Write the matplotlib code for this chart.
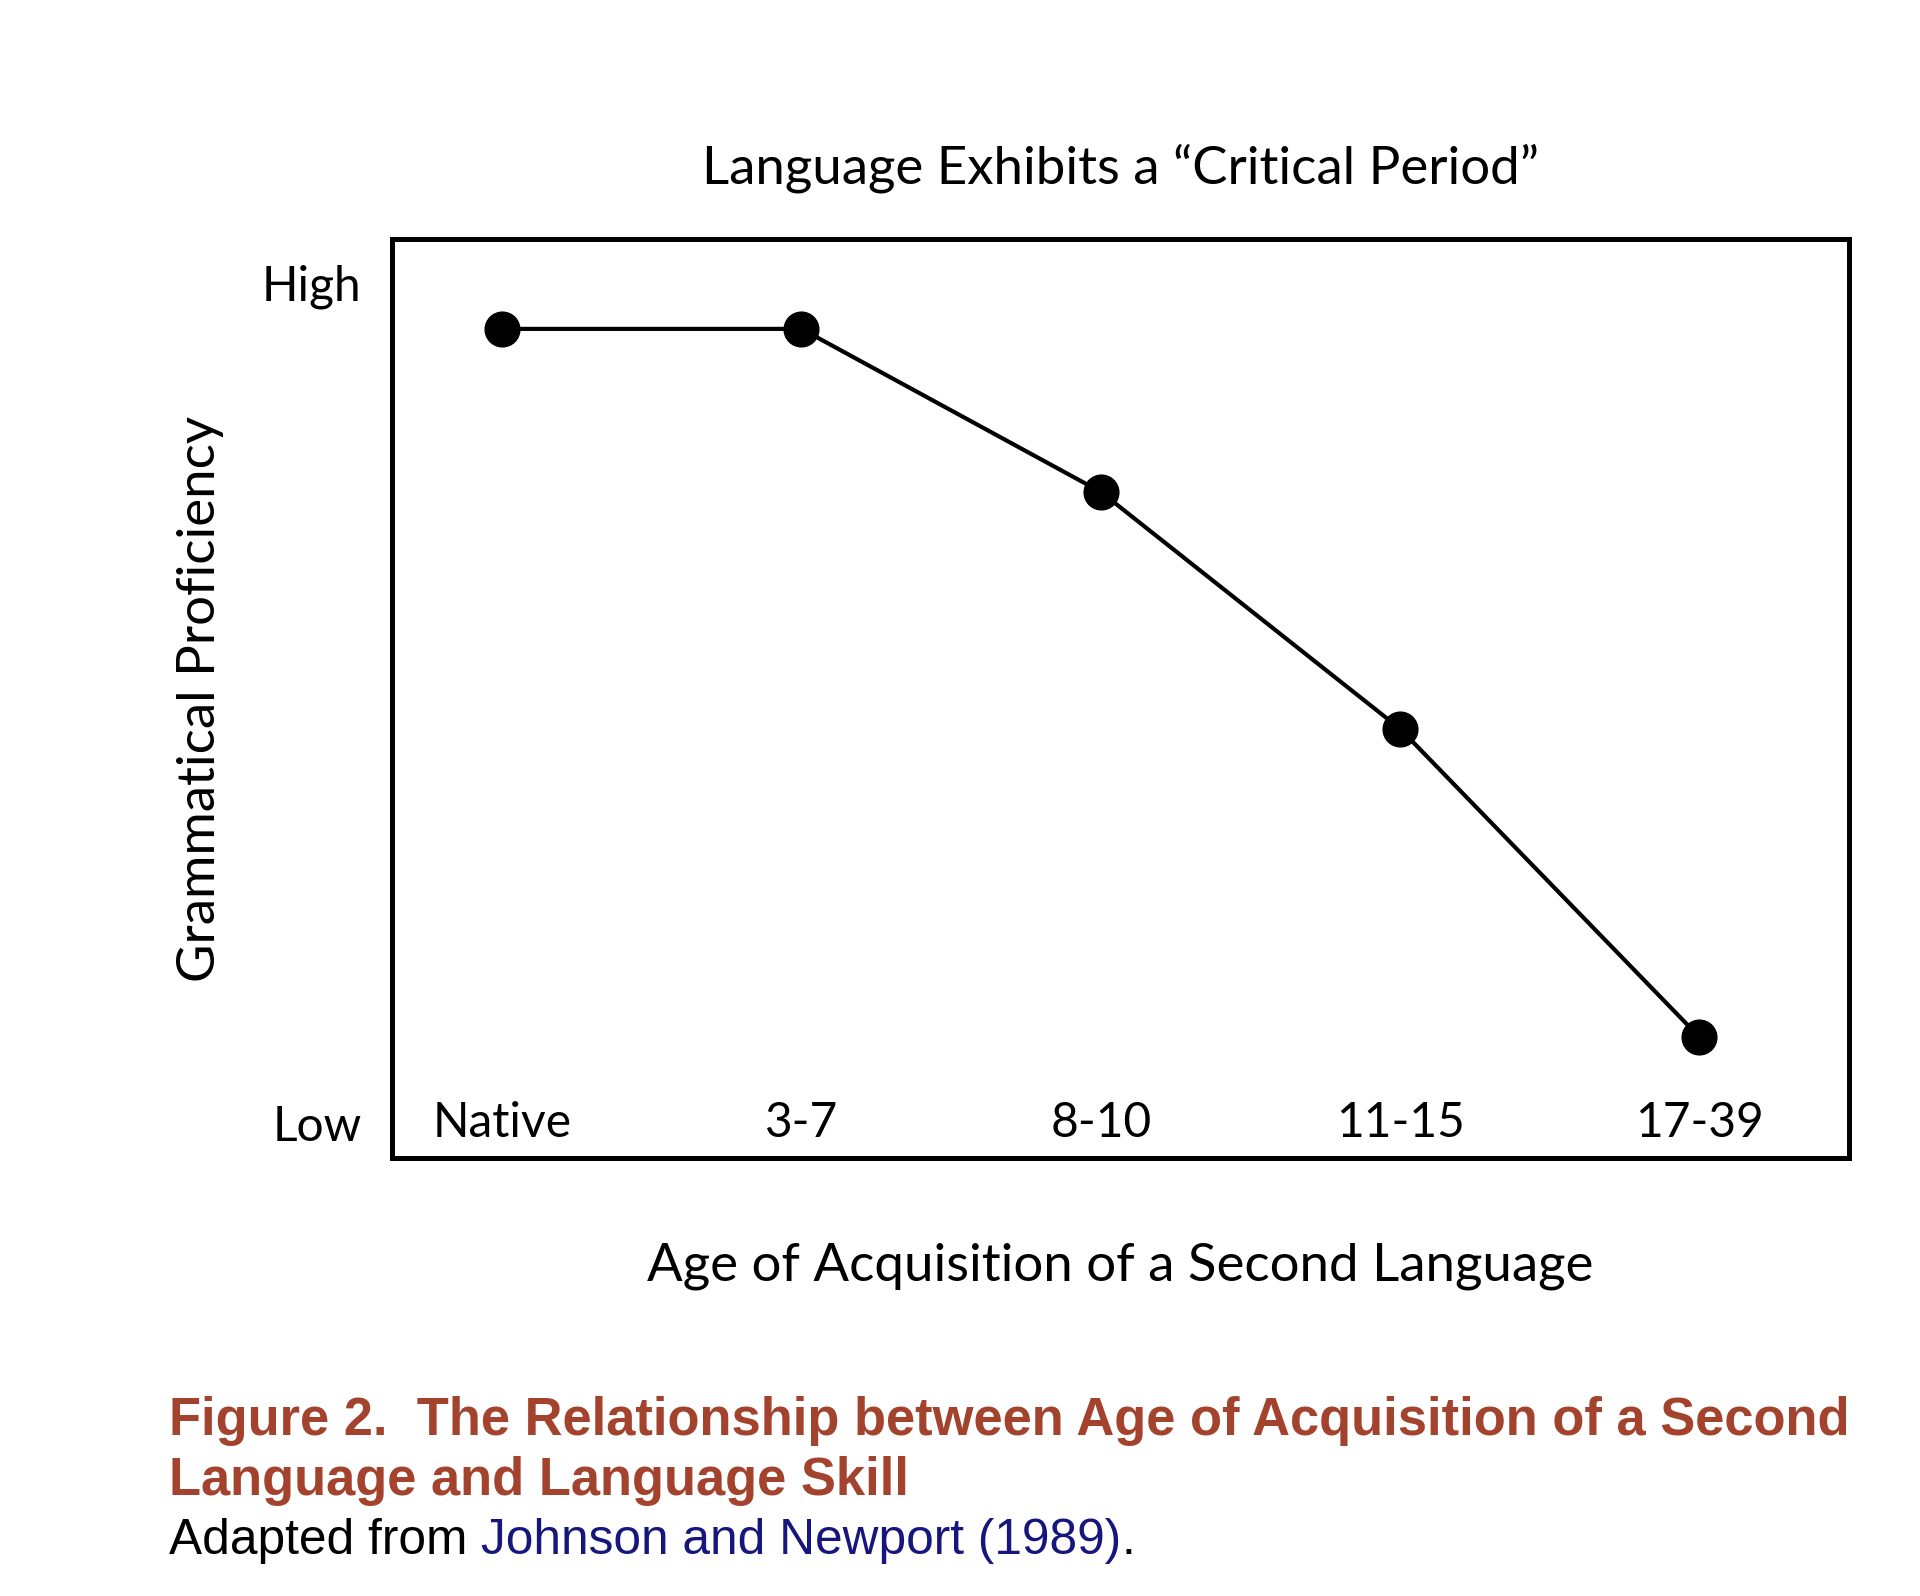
import matplotlib
matplotlib.use('Agg')
import matplotlib.pyplot as plt

# data (proficiency: 0 = Low, 100 = High)
age_groups = ['Native', '3-7', '8-10', '11-15', '17-39']
proficiency = [94.5, 94.5, 75.1, 46.9, 10.2]
y_ticks = [0, 100]
y_ticklabels = ['Low', 'High']

FONT = 'Lato'
CAP_FONT = 'Liberation Sans'

fig = plt.figure(figsize=(19.2, 15.96), dpi=100)
ax = fig.add_axes([392 / 1920, 1 - 1158 / 1596, (1849 - 392) / 1920, (1158 - 239) / 1596])

x = list(range(len(age_groups)))
ax.plot(x, proficiency, color='black', lw=3.0, marker='o', ms=25, zorder=3)

ax.set_xlim(-0.368, 4.5)
ax.set_ylim(-4.2, 105.2)

for s in ax.spines.values():
    s.set_linewidth(3.6)

ax.set_yticks(y_ticks)
ax.set_yticklabels(y_ticklabels, fontfamily=FONT, fontsize=34.5)
ax.tick_params(axis='y', length=0, pad=22)
ax.set_xticks([])

# category labels sit inside the box, level with "Low"
for xi, lab in zip(x, age_groups):
    ax.text(xi, 0, lab, ha='center', va='center', fontfamily=FONT, fontsize=34.5)

ax.set_title('Language Exhibits a \u201cCritical Period\u201d', fontfamily=FONT,
             fontsize=38, pad=40)
ax.set_xlabel('Age of Acquisition of a Second Language', fontfamily=FONT,
              fontsize=38, labelpad=61)
ax.set_ylabel('Grammatical Proficiency', fontfamily=FONT, fontsize=38, labelpad=27)

# caption below the chart
red = '#a3432d'
cy = [1421, 1481, 1541]
fig.text(169 / 1920, 1 - cy[0] / 1596, 'Figure 2.  The Relationship between Age of Acquisition of a Second',
         fontfamily=CAP_FONT, fontweight='bold', fontsize=37.8, color=red, va='center')
fig.text(169 / 1920, 1 - cy[1] / 1596, 'Language and Language Skill',
         fontfamily=CAP_FONT, fontweight='bold', fontsize=37.8, color=red, va='center')
t1 = fig.text(169 / 1920, 1 - cy[2] / 1596, 'Adapted from ', fontfamily=CAP_FONT,
              fontsize=35.7, color='black', va='center')
fig.canvas.draw()
bb = t1.get_window_extent()
t2 = fig.text(bb.x1 / 1920, 1 - cy[2] / 1596, 'Johnson and Newport (1989)', fontfamily=CAP_FONT,
              fontsize=35.7, color='#16167c', va='center')
fig.canvas.draw()
bb = t2.get_window_extent()
fig.text(bb.x1 / 1920, 1 - cy[2] / 1596, '.', fontfamily=CAP_FONT,
         fontsize=35.7, color='black', va='center')

fig.savefig('out.png', dpi=100)
